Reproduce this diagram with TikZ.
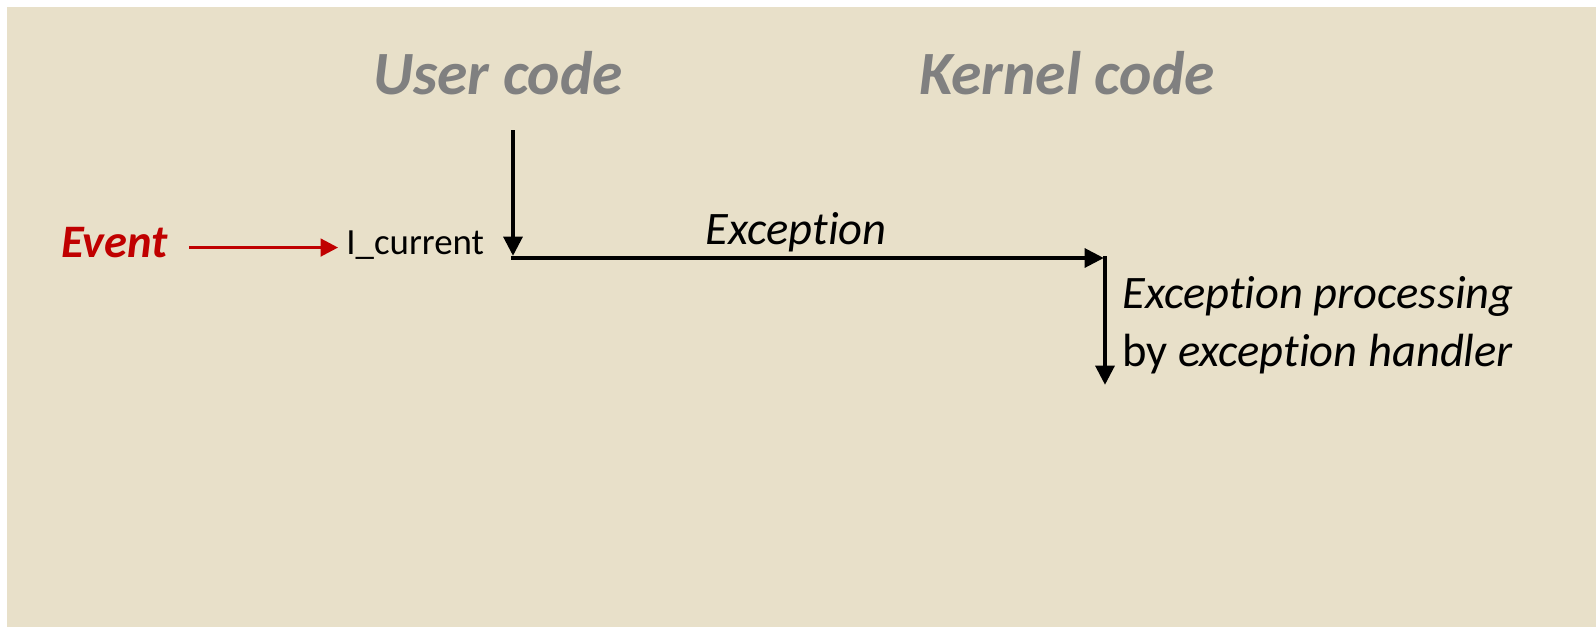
\documentclass[tikz,border=0pt]{standalone}
\usepackage{fontspec}
\setmainfont[Ligatures={NoCommon}]{Carlito}
\usetikzlibrary{arrows.meta}
\definecolor{slidebg}{RGB}{232,224,201}
\definecolor{headgray}{RGB}{128,128,128}
\definecolor{evred}{RGB}{192,0,0}

\begin{document}
\begin{tikzpicture}[
  x=0.02cm, y=-0.02cm,
  every node/.style={inner sep=0pt, font=\fontsize{26.5}{33}\selectfont},
  headline/.style={font=\fontsize{35}{40}\selectfont\bfseries\itshape, text=headgray},
  flowline/.style={line width=2.6pt, -{Triangle[length=11pt, width=10.5pt]}},
  evline/.style={line width=1.8pt, draw=evred, -{Triangle[length=10pt, width=10pt]}},
  >=Stealth
]

\useasboundingbox (0,0) rectangle (1596,627);
\fill[slidebg] (7,7) rectangle (1596,627);

\node[headline, anchor=base] (user) at (498,94) {User code};
\node[headline, anchor=base] (kernel) at (1067,94) {Kernel code};

\node[anchor=base west, text=evred, font=\fontsize{26.5}{33}\selectfont\bfseries\itshape]
  (event) at (61,257) {Event};
\node[anchor=base west, font=\fontsize{21}{26}\selectfont] (icur) at (346,254) {I\_current};

\coordinate (utop) at (513,130);
\coordinate (ubot) at (513,256);
\coordinate (hstart) at (511,258);
\coordinate (hend) at (1104,258);
\coordinate (ktop) at (1105,256);
\coordinate (kbot) at (1105,385);

\node[anchor=base, font=\fontsize{26.5}{33}\selectfont\itshape] (exc) at (796,244) {Exception};
\node[anchor=north west, align=left] (proc) at (1122,276)
  {\textit{Exception processing}\\by \textit{exception handler}};

\draw[evline, shorten <=12pt, shorten >=4.5pt]
  ([yshift=3pt]event.mid east) -- ([yshift=3pt]event.mid east -| icur.west);
\draw[flowline] (utop) -- (ubot);
\draw[flowline] (hstart) -- (hend);
\draw[flowline] (ktop) -- (kbot);

\end{tikzpicture}
\end{document}
